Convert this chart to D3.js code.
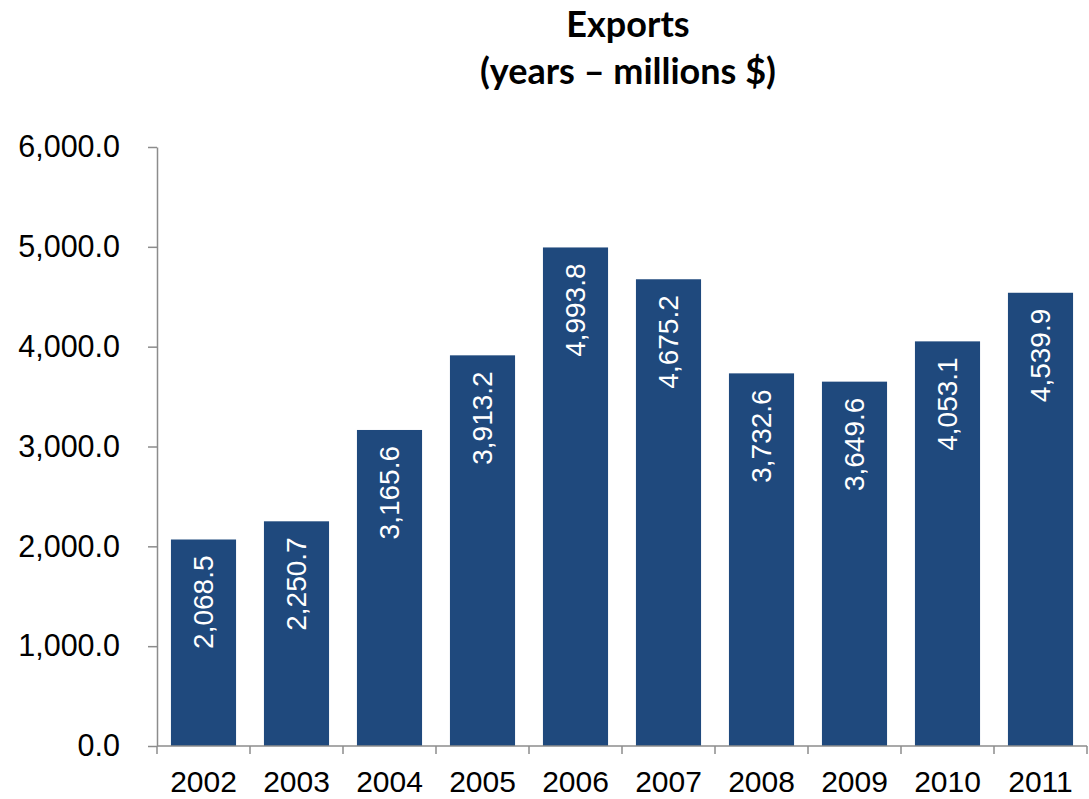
<!DOCTYPE html>
<html><head><meta charset="utf-8">
<script src="https://cdn.jsdelivr.net/npm/d3@7"></script>
<style>body{margin:0;background:#fff}svg{display:block}</style>
</head><body>
<script>
const years = ["2002","2003","2004","2005","2006","2007","2008","2009","2010","2011"];
const exportsValues = [2068.5, 2250.7, 3165.6, 3913.2, 4993.8, 4675.2, 3732.6, 3649.6, 4053.1, 4539.9];
const yTicks = [0, 1000, 2000, 3000, 4000, 5000, 6000];
const titleLines = ["Exports", "(years \u2013 millions $)"];

const W = 1089, H = 799;
const svg = d3.select("body").append("svg").attr("width", W).attr("height", H);
const x0 = 157, x1 = 1087, yBot = 746, yTop = 147;
const x = d3.scaleBand().domain(years).range([x0, x1]).paddingInner(0.3).paddingOuter(0.15);
const y = d3.scaleLinear().domain([0, 6000]).range([yBot, yTop]);
const fmt = d3.format(",.1f");
const axisColor = "#8c8c8c";

// title
svg.append("g").selectAll("text").data(titleLines).join("text")
  .attr("x", 628).attr("y", (d,i) => 37 + i*47)
  .attr("text-anchor", "middle")
  .style("font-family", "Lato, 'Open Sans', sans-serif").style("font-weight", "bold")
  .style("font-size", "36px").attr("fill", "#000").text(d => d);

// bars
svg.append("g").selectAll("rect").data(years).join("rect")
  .attr("x", d => x(d)).attr("width", x.bandwidth())
  .attr("y", (d,i) => y(exportsValues[i]))
  .attr("height", (d,i) => yBot - y(exportsValues[i]))
  .attr("fill", "#1f497d");

// bar labels
svg.append("g").selectAll("text").data(years).join("text")
  .attr("transform", (d,i) => `translate(${x(d) + x.bandwidth()/2},${y(exportsValues[i]) + 16}) rotate(-90)`)
  .attr("text-anchor", "end").attr("dy", "0.35em")
  .style("font-family", "'Liberation Sans', Arial, sans-serif").style("font-size", "28px")
  .attr("fill", "#fff").text((d,i) => fmt(exportsValues[i]));

// y axis
const ya = svg.append("g").attr("transform", `translate(${x0},0)`)
  .call(d3.axisLeft(y).tickValues(yTicks).tickFormat(fmt).tickSize(9).tickSizeOuter(0).tickPadding(28));
ya.select(".domain").attr("stroke", axisColor).attr("stroke-width", 1.5);
ya.selectAll(".tick line").attr("stroke", axisColor).attr("stroke-width", 1.5);
ya.selectAll(".tick text").attr("fill", "#000")
  .style("font-family", "'Liberation Sans', Arial, sans-serif").style("font-size", "30.5px");

// x axis
const boundaries = d3.range(years.length + 1).map(i => x0 + i * x.step());
const xa = svg.append("g");
xa.append("line").attr("x1", x0).attr("x2", x1).attr("y1", yBot).attr("y2", yBot)
  .attr("stroke", axisColor).attr("stroke-width", 1.5);
xa.selectAll("line.tk").data(boundaries).join("line").attr("class", "tk")
  .attr("x1", d => d).attr("x2", d => d).attr("y1", yBot).attr("y2", yBot + 8)
  .attr("stroke", axisColor).attr("stroke-width", 1.5);
xa.selectAll("text").data(years).join("text")
  .attr("x", d => x(d) + x.bandwidth()/2).attr("y", 792)
  .attr("text-anchor", "middle")
  .style("font-family", "'Liberation Sans', Arial, sans-serif").style("font-size", "30px")
  .attr("fill", "#000").text(d => d);
</script>
</body></html>
